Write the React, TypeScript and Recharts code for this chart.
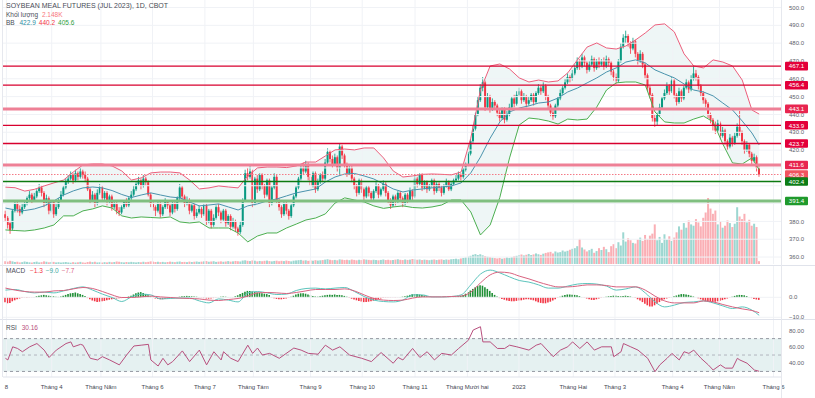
import React from 'react';
import { ComposedChart, Bar, Line, Area, XAxis, YAxis, ReferenceLine, ReferenceArea, Cell } from 'recharts';

const FONT = '"Liberation Sans", Arial, sans-serif';
const UP = '#089981';
const DOWN = '#f23645';

// ---------- price data (daily, index 0 = 8 Mar 2022) ----------
const opens = [
  384,382,379,376,386,390,387,385,388,390, 393,395,392,394,397,399,396,390,393,386,
  391,384,388,392,395,399,402,404,406,403, 407,405,408,406,404,398,392,395,390,396,
  399,393,396,391,394,388,390,386,385,388, 391,389,393,395,398,401,403,400,404,402,
  395,390,388,386,390,384,388,391,389,385, 390,387,393,399,394,390,392,386,389,383,
  385,387,384,389,380,386,378,382,388,385, 381,386,379,383,377,380,376,374,378,392,
  407,405,408,390,404,398,406,400,395,403, 390,399,405,392,388,384,390,386,383,389,
  394,399,404,410,408,412,405,400,407,398, 402,406,404,413,419,415,412,416,410,422,
  417,412,407,410,404,400,396,403,398,394, 399,396,393,397,400,395,398,401,396,392,
  389,394,391,396,393,390,395,392,397,394, 404,401,406,399,402,398,400,403,397,401,
  399,396,400,402,398,401,403,404,406,405, 409,412,418,425,432,440,448,455,458,444,
  450,443,447,445,441,438,443,437,440,444, 449,446,451,453,448,450,446,448,451,447,
  452,455,453,456,450,445,441,439,445,449, 452,455,458,461,460,463,466,470,467,472,
  469,465,468,471,466,470,468,470,467,471, 469,464,461,459,470,478,483,484,480,477,
  481,474,470,474,468,462,455,451,438,436, 440,444,449,452,456,453,459,451,447,453,
  449,455,458,454,460,463,461,456,452,448, 446,440,437,434,431,435,428,431,425,422,
  427,424,428,433,430,425,420,423,418,414, 416,410
];
const closes = [
  382,378,375,386,390,387,385,388,390,393, 395,392,394,397,399,396,390,393,386,391,
  384,388,392,395,399,402,404,406,403,407, 405,408,406,404,398,392,395,390,396,399,
  393,396,391,394,388,390,386,385,388,391, 389,393,395,398,401,403,400,404,402,395,
  390,388,386,390,384,388,391,389,385,390, 387,393,399,394,390,392,386,389,383,385,
  387,384,389,380,386,378,382,388,385,381, 386,379,383,377,380,376,374,378,392,407,
  405,408,390,404,398,406,400,395,403,390, 399,405,392,388,384,390,386,383,389,394,
  399,404,410,408,412,405,400,407,398,402, 406,404,413,419,415,412,416,410,422,417,
  412,407,410,404,400,396,403,398,394,399, 396,393,397,400,395,398,401,396,392,389,
  394,391,396,393,390,395,392,397,394,404, 401,406,399,402,398,400,403,397,401,399,
  396,400,402,398,401,403,404,406,405,409, 412,418,425,432,440,448,455,458,444,450,
  443,447,445,441,438,443,437,440,444,449, 446,451,453,448,450,446,448,451,447,452,
  455,453,456,450,445,441,439,445,449,452, 455,458,461,460,463,466,470,467,472,469,
  465,468,471,466,470,468,470,467,471,469, 464,461,459,470,478,483,484,480,477,481,
  474,470,474,468,462,455,451,438,436,440, 444,449,452,456,453,459,451,447,453,449,
  455,458,454,460,463,461,456,452,448,446, 440,437,434,431,435,428,431,425,422,427,
  424,428,433,430,425,420,423,418,414,416, 410,406.3
];
const highs = [
  386,383,380,387,392,391,389,390,392,394, 397,396,396,398,401,400,397,395,394,392,
  392,390,393,397,400,404,406,408,407,409, 408,410,409,408,405,399,397,396,398,401,
  400,397,397,395,395,392,391,388,389,392, 393,394,397,400,402,405,404,406,405,403,
  396,392,389,391,391,389,393,392,390,391, 391,394,401,400,395,394,393,390,390,387,
  389,388,390,390,387,387,384,389,390,386, 387,387,384,384,382,381,377,380,393,409,
  410,411,409,405,406,407,407,401,404,404, 400,407,406,393,389,391,391,387,390,395,
  400,405,412,413,414,413,406,408,408,404, 407,408,415,421,420,417,418,417,424,423,
  418,413,412,411,405,401,404,404,399,400, 400,397,398,402,401,399,403,402,397,393,
  395,395,397,397,394,396,396,399,398,406, 405,407,407,403,403,401,404,404,402,402,
  400,401,404,403,402,404,406,408,407,410, 413,419,426,434,441,450,457,461,459,452,
  451,449,448,446,443,444,444,442,446,450, 451,453,455,454,452,451,450,452,452,453,
  457,456,458,457,451,446,443,446,450,454, 456,460,463,462,465,468,472,471,474,473,
  470,470,473,472,471,472,471,472,473,472, 470,465,463,471,480,485,487,485,481,483,
  482,475,476,475,469,463,456,452,440,441, 446,450,454,458,457,461,460,452,455,454,
  456,460,459,462,467,465,462,457,453,449, 447,441,438,436,437,436,433,432,426,429,
  428,430,435,442,431,426,425,424,419,418, 417,411
];
const lows = [
  380,376,373,375,385,385,383,384,387,389, 392,390,391,393,396,394,388,389,384,385,
  382,383,387,391,394,398,401,403,401,402, 403,404,404,402,397,390,391,388,389,395,
  392,392,389,390,386,387,384,383,384,387, 388,388,392,394,397,400,398,399,400,394,
  388,386,383,385,382,383,387,387,383,384, 385,386,392,392,388,389,384,385,381,382,
  384,382,383,378,379,376,377,381,383,379, 380,377,378,375,376,374,372,373,377,391,
  403,404,388,389,396,397,398,393,394,388, 389,398,390,386,382,383,384,381,382,388,
  393,398,403,406,407,403,398,399,396,397, 401,402,403,412,413,410,411,408,406,415,
  410,405,406,402,398,394,395,396,392,393, 394,391,392,396,393,394,397,394,390,387,
  388,389,390,391,388,389,390,391,392,393, 399,400,397,398,396,397,399,395,396,397,
  394,395,399,397,397,400,402,403,403,404, 408,411,417,424,431,439,447,453,442,443,
  441,442,443,439,436,437,435,436,439,443, 444,445,450,446,447,444,445,447,445,446,
  451,451,452,448,443,439,437,438,444,448, 451,454,457,458,459,462,465,465,466,467,
  463,464,467,464,465,466,467,465,466,467, 462,459,457,458,469,477,480,478,474,476,
  472,468,469,466,460,453,449,436,433,434, 439,443,448,451,451,452,449,445,446,447,
  448,454,452,453,459,459,454,450,446,444, 438,435,431,429,430,426,427,423,420,421,
  422,423,427,428,423,418,419,416,412,413, 408,405
];
// volume in thousand contracts
const volumes = [
  2.1,1.8,2.4,2.0,1.5,1.7,1.2,1.4,1.9,1.6, 1.3,1.1,1.5,1.8,1.2,1.4,2.0,1.7,1.3,1.5,
  1.6,1.2,1.4,1.1,1.3,1.5,1.2,1.0,1.4,1.1, 1.3,1.6,1.2,1.0,1.5,1.8,1.4,1.7,1.2,1.3,
  1.1,1.4,1.2,1.6,1.3,1.5,1.9,1.7,1.4,1.2, 1.5,1.3,1.6,1.4,1.2,1.5,1.3,1.7,1.4,1.6,
  2.0,1.8,1.5,1.7,1.4,1.6,1.3,1.5,1.8,1.6, 1.4,1.7,1.9,1.5,1.6,1.4,1.8,1.5,1.7,1.9,
  1.6,1.8,2.0,2.2,1.7,1.9,2.1,1.6,1.8,2.0, 1.7,1.9,2.2,1.8,2.0,2.3,2.1,1.9,2.6,2.8,
  2.4,2.2,2.7,2.5,2.0,2.3,2.1,2.4,2.6,2.2, 2.0,2.3,2.5,2.1,2.4,2.2,2.6,2.3,2.0,2.5,
  2.7,2.9,3.1,2.6,2.8,2.4,2.7,2.5,2.9,2.6, 2.8,3.0,3.3,3.6,3.2,2.9,3.1,2.8,3.5,3.3,
  3.0,3.2,2.9,3.4,3.1,2.8,3.2,3.0,3.5,3.3, 3.1,2.9,3.2,3.0,2.8,3.1,3.4,3.0,3.2,2.9,
  3.1,3.3,3.6,3.2,3.0,3.4,3.1,3.3,3.8,3.5, 3.2,3.4,3.0,3.3,3.1,2.9,3.2,3.4,3.0,3.3,
  3.5,3.1,3.4,3.2,3.6,3.8,4.0,3.6,4.2,4.6, 5.0,5.6,6.2,7.0,7.5,6.8,7.4,6.6,6.0,5.5,
  5.2,4.8,4.5,4.2,4.6,4.0,4.4,5.0,4.6,5.2, 5.8,6.2,6.8,7.2,6.5,7.0,7.6,6.8,7.3,8.0,
  7.4,6.9,7.8,8.4,8.8,9.2,8.0,9.5,8.7,9.0, 10.2,9.4,10.0,10.8,11.5,12.0,13.5,19.0,12.5,11.0,
  9.5,10.5,11.5,8.5,9.8,12.0,10.6,13.0,11.2,9.0, 13.5,15.0,12.0,16.5,14.0,24.0,17.0,19.5,18.0,16.0,
  15.5,18.5,20.0,17.5,22.0,19.0,21.5,23.0,30.0,18.0, 20.5,16.0,22.5,18.5,21.0,17.5,20.0,24.0,28.5,26.0,
  31.0,27.5,33.0,30.0,29.0,34.0,31.5,28.5,35.0,39.0, 50.0,42.0,38.0,40.5,30.0,32.5,27.5,29.0,33.0,31.0,
  28.0,30.5,43.0,36.0,34.0,38.0,31.5,33.5,29.0,30.5, 28.0,2.148
];

// ---------- Bollinger Bands (read every 4th bar) ----------
const bbIdx = [
  0,4,8,12,16,20,24,28,32,36, 40,44,48,52,56,60,64,68,72,76, 80,84,88,92,96,100,104,108,112,116,
  120,124,128,132,136,140,144,148,152,156, 160,164,168,172,176,180,184,188,192,196,
  200,204,208,212,216,220,224,228,232,236, 240,244,248,252,256,260,264,268,272,276,
  280,284,288,292,296,300,304,308,311
];
const bbUpper = [
  399.2,398.9,397,398,399.9,401.6,403.2,407.7,411.7,412.2, 412.2,411.1,408.3,403.2,404.4,407.2,407.7,407.7,407.2,403.2,
  398.2,398.8,399.9,399.3,398.8,405.5,410,410.5,410.5,410.2, 411.1,413.3,413.3,416.7,420.1,420.6,420.1,421.2,421.2,415.6,
  408.3,404.9,405.5,406.4,406.6,406.4,406.1,407.7,426.7,453.7, 467.2,468.3,465.5,460.5,458.2,459.3,458.2,458.8,463.3,470.6,
  477.8,480.1,477.3,476.7,478.4,481.8,485.7,490.2,490.8,486.3, 474,467.2,466.1,470.6,469.4,467.2,459.3,442.5,440.2
];
const bbBasis = [
  387.5,386.4,386.1,387,388.7,391.5,394.8,397.1,398.8,399.3, 398.8,397.3,395.1,393.4,394.8,396,394.8,393.7,393.2,390.9,
  388.7,389.2,389.8,388.1,386.4,388.7,389.8,391.5,392.6,394.3, 396,397.1,398.2,402.1,404.9,406.6,406.9,405.5,403.8,401,
  398.2,396.5,397.6,398.2,398.8,399.3,399.9,401.6,407.2,416.1, 426.7,435.8,441.4,443.6,444.8,446.4,447,449.2,452.6,454.8,
  457.7,460.5,463.8,466.1,469.4,470.6,468.9,465,462.7,460.5, 457.1,453.7,452.6,450.4,446.4,442.5,436.3,429.6,422.9
];
const bbLower = [
  375.2,374.9,374.6,375.2,376.3,378,383.1,383.1,385.9,387, 388.7,387.5,383.1,381.9,382.5,382.2,381.9,382.5,379.7,379.1,
  379.7,376.3,376.3,376.3,373.5,368.5,371.8,373.5,373.5,376.3, 378.5,380.8,381.9,384.2,390.3,393.2,392,390.9,388.7,387.3,
  388.1,388.7,387.8,387.5,388.1,389.2,392,392,385.3,372.4, 378,393.5,415.6,434.1,438,437.4,436.3,434.6,437.4,436.9,
  437.4,444.2,453.7,457.7,458.2,458.2,456.5,441.4,435.8,435.2, 435.2,437.4,439.1,435.8,423.4,412.8,412.2,415.6,409
];

// ---------- MACD (lines read every 4th bar, histogram per bar) ----------
const macdLine = [
  3.6,3.9,2.9,2.2,2.6,2.2,3.2,4.4,5.2,3.6, 1.6,-0.1,-2.1,0.2,1.6,1.2,-0.8,-0.6,-0.4,-0.4,
  -1.8,-2.8,-0.8,-1.4,-2.3,2.2,2.9,2.2,1.4,1.6, 3.4,4.4,4.6,4.2,4.6,4.9,2.9,0.4,-1.4,-2.1,
  -2.3,-1.4,1.2,1.2,0.2,0.2,0.4,1.2,6.2,11.6, 13.6,12.2,10.2,8.4,7.6,6.2,4.6,4.6,5.6,6.6,
  6.9,6.6,5.6,3.6,4.2,5.2,2.2,-2.3,-4.8,-3.9, -2.6,-2.3,-1.8,-2.8,-4.3,-5.6,-4.8,-6.4,-9.0
];
const macdSignal = [
  4.6,3.6,2.9,2.6,2.6,3.2,3.4,4.2,4.9,4.4, 2.9,1.2,-0.1,-0.1,0.2,0.6,0.2,-0.1,-0.4,-0.6,
  -0.8,-1.4,-1.6,-1.1,-0.6,0.6,2.2,2.4,2.2,1.9, 2.4,3.2,3.9,3.9,3.9,4.2,3.2,1.2,-0.6,-1.4,
  -1.6,-1.4,-0.4,0.2,0.2,0.2,0.4,0.6,2.6,7.2, 11.2,12.6,12.2,10.6,9.2,7.6,6.2,5.2,5.2,5.6,
  6.2,6.2,5.9,5.2,5.2,5.2,3.6,0.6,-1.8,-2.8, -2.8,-2.8,-1.8,-2.3,-3.6,-4.8,-5.8,-6.6,-7.7
];
const macdHist = [
  -2.5,-3,-2.8,-2,-1.5,
  -1,-0.6,-0.3,-0.2,-0.3,-0.2,-0.1,0.2,
  0.5,0.8,1,1.2,1,0.8,0.6,0.5,0.3,0.2,0.4,
  0.8,1.2,1.6,2,2.2,2.4,2,1.6,1.2,0.6,
  -0.4,-1,-1.6,-2,-2.4,-2.2,-2,-1.8,-1.5,-1.2,-1,-0.8,
  -0.6,-0.5,-0.4,-0.2,0.1,0.4,
  0.8,1.4,2,2.4,2.6,2.2,1.6,1,0.4,
  -0.3,-0.6,-0.8,-1,-1,-0.9,-0.7,-0.5,-0.3,-0.2,0.1,
  0.3,0.5,0.6,0.7,0.6,0.5,0.4,0.3,0.1,-0.2,-0.4,-0.6,-0.7,-0.6,-0.4,-0.2,0.1,0.3,0.4,0.3,0.2,0.1,0.2,
  0.5,1,1.6,2.2,2.8,3.2,3.2,3,2.6,2.4,2.2,2,1.8,1.6,1.2,
  -0.2,-0.5,-0.8,-1,-1,-0.8,-0.6,-0.3,
  0.3,0.8,1.4,1.8,2,2,1.8,1.4,1,
  0.6,0.4,0.3,0.5,0.8,1,
  1.2,1.3,1.2,1.4,1.2,1.2,1,0.7,0.3,
  -0.3,-0.7,-1.1,-1.5,-1.8,-2.1,-2.4,-2.4,-2.2,-2,-1.7,-1.3,-0.9,
  -0.6,-0.4,-0.3,-0.2,-0.2,-0.1,-0.2,-0.1,0.1,0.3,0.5,0.8,
  1.2,1.5,1.6,1.6,1.4,1.2,0.9,0.5,0.2,
  0.1,0.2,0.1,-0.1,0.1,0.2,0.1,0.2,0.3,0.2,0.3,0.5,0.8,
  1.2,1.8,2.6,3.4,4.2,5,5.6,6,5.8,5,4.2,3.2,
  2.2,1.2,0.4,-0.4,
  -0.8,-1.2,-1.6,-1.8,-2,-2,-1.8,-1.6,-1.5,-1.2,-1,-1,-1.2,
  -1.5,-2,-2.5,-2.8,-3,-3,-2.6,-2.2,-1.6,-1,
  -0.3,0.3,0.8,1.2,1.4,1.4,1.3,1.2,1,0.6,
  0.2,-0.2,-0.6,-1,-1.3,-1.3,-1,-0.6,-0.3,
  0.1,0.3,0.5,0.7,0.8,0.8,0.6,
  0.5,0.6,0.8,0.7,0.4,0.1,-0.4,-1,
  -1.6,-2.4,-3.2,-4,-4.6,-4.6,-4,-3.2,-2.4,
  -1.6,-1,-0.6,-0.3,0.1,
  0.5,0.9,1.3,1.6,1.6,1.4,1.2,0.8,0.4,0,
  -0.5,-1,-1.5,-2,-2.2,-2.3,-2.4,-2.2,-2,-1.7,-1.4,-1,-0.6,-0.2,
  0.3,0.7,1,1.2,1.2,1,0.6,0.2,
  -0.4,-0.8,-1.1,-1.3
];

// ---------- RSI (read at turning points) ----------
const rsiIdx = [
  0,1,3,5,7,10,13,16,18,21,25,27,28,31,32,35,38,40,43,47,50,53,56,59,60,63,65,67,69,73,
  76,80,83,86,89,90,93,96,100,102,104,106,109,113,119,122,125,129,132,135,138,142,147,151,155,160,162,164,168,171,
  174,177,180,184,187,191,193,196,197,200,203,206,208,211,216,219,221,226,229,232,234,237,240,243,246,250,251,254,255,258,
  261,265,268,270,273,275,278,280,282,284,287,290,292,295,297,300,302,303,306,309,311
];
const rsiVals = [
  46,44,60,58,54,60,64,56,47,56,64,66,60,63,62,46,44,48,44,38,50,61,62,63,44,36.6,46,38,42,55,
  42,56,38,54,44,54,46,42,62,52,58.5,50,52,46,58.5,56,52,51,62,56,60,50,46,42,53,40,47,44,58,47,
  54,44,52,50,58,68,80.5,84.5,66,66,58,58,62,60,56,62,64,48,56,60,66,58,66,56,60,60,48,54,64,60,
  56,46,29.7,38,46,52,44,54,52,56,46,38,31.7,38,34,34,46,44,40,31.7,30.16
];

// ---------- levels, ticks ----------
const levelValues = [467.1, 456.4, 443.1, 433.9, 423.7, 411.6, 406.3, 402.4, 391.4];
const levelLineColors = ['#d8002e', '#d8002e', '#ee8096', '#d8002e', '#d8002e', '#ee8096', '#f47a86', '#0c7a10', '#80bf80'];
const levelLineWidths = [1.3, 1.3, 3, 1.3, 1.3, 3, 1, 1.4, 3];
const levelTagColors = ['#e3003a', '#e3003a', '#e8254f', '#e3003a', '#e3003a', '#e8254f', '#f2535f', '#0c7d16', '#1f9a2c'];
const priceTicks = [360, 370, 380, 420, 430, 440, 450, 460, 470, 480, 490, 500];
const priceGrid = [360, 370, 380, 390, 400, 410, 420, 430, 440, 450, 460, 470, 480, 490, 500];
const monthTicks = [0.4, 19.1, 39.4, 60.7, 82.3, 102.3, 125.9, 147.2, 169, 190.6, 211.9, 234.3, 251.5, 275.3, 294.6, 316.9];
const monthLabels = ['8', 'Tháng 4', 'Tháng Năm', 'Tháng 6', 'Tháng 7', 'Tháng Tám', 'Tháng 9', 'Tháng 10', 'Tháng 11', 'Tháng Mười hai', '2023', 'Tháng Hai', 'Tháng 3', 'Tháng 4', 'Tháng Năm', 'Tháng 6'];

const X_DOMAIN: [number, number] = [-1, 320];
const PRICE_DOMAIN: [number, number] = [356.1, 504.2];
const MACD_DOMAIN: [number, number] = [-11.35, 16.15];
const RSI_DOMAIN: [number, number] = [23.2, 92.7];

const rows = closes.map((c, i) => ({
  i, open: opens[i], high: highs[i], low: lows[i], close: c, vol: volumes[i], hist: macdHist[i],
}));
const bbData = bbIdx.map((i, k) => ({ i, u: bbUpper[k], m: bbBasis[k], l: bbLower[k], r: [bbLower[k], bbUpper[k]] }));
const macdData = bbIdx.map((i, k) => ({ i, macd: macdLine[k], sig: macdSignal[k] }));
const rsiData = rsiIdx.map((i, k) => ({ i, rsi: rsiVals[k] }));

const Candle = (props: any) => {
  const { x, y, width, height, payload } = props;
  if (!payload || height == null || isNaN(height)) return null;
  const { open, close, high, low } = payload;
  const ppu = height / (high - low);
  const cx = x + width / 2;
  const top = Math.max(open, close);
  const bot = Math.min(open, close);
  const yTop = y + (high - top) * ppu;
  const bodyH = Math.max((top - bot) * ppu, 0.8);
  const color = close >= open ? UP : DOWN;
  return (
    <g>
      <line x1={cx} x2={cx} y1={y} y2={y + height} stroke={color} strokeWidth={0.8} />
      <rect x={x} y={yTop} width={width} height={bodyH} fill={color} />
    </g>
  );
};

const Tag = (props: any) => {
  const { viewBox, text, bg } = props;
  if (!viewBox) return null;
  const x = viewBox.x + viewBox.width + 4;
  const y = viewBox.y;
  return (
    <g>
      <rect x={x} y={y - 4.3} width={23} height={8.6} fill={bg} rx={1} />
      <text x={x + 11.5} y={y} dy="0.36em" textAnchor="middle" fontSize={6.2} fill="#ffffff" fontFamily={FONT}>{text}</text>
    </g>
  );
};

const axisTick = { fontSize: 6, fill: '#5d606b', fontFamily: FONT };
const gridColor = '#f0f2f6';

export default function App() {
  return (
    <div style={{ position: 'fixed', left: 0, top: 0, width: 815, height: 398, background: '#ffffff', fontFamily: FONT, overflow: 'hidden' }}>
      {/* main price pane */}
      <div style={{ position: 'absolute', left: 0, top: 0 }}>
        <ComposedChart width={815} height={264} data={rows} margin={{ top: 0, right: 0, bottom: 0, left: 3 }}>
          <XAxis dataKey="i" type="number" domain={X_DOMAIN} hide allowDataOverflow />
          <XAxis xAxisId="v" dataKey="i" type="number" domain={X_DOMAIN} hide allowDataOverflow />
          <YAxis orientation="right" width={34} domain={PRICE_DOMAIN} ticks={priceTicks} interval={0}
            allowDataOverflow axisLine={false} tickLine={false} tick={axisTick}
            tickFormatter={(v: number) => v.toFixed(1)} />
          <YAxis yAxisId="vol" hide domain={[0, 200]} />
          {monthTicks.map((t) => (
            <ReferenceLine key={'mv' + t} x={t} stroke={gridColor} strokeWidth={1} />
          ))}
          {priceGrid.map((p) => (
            <ReferenceLine key={'ph' + p} y={p} stroke={gridColor} strokeWidth={1} />
          ))}
          <Area data={bbData} dataKey="r" type="linear" stroke="none" fill="#d9ecea" fillOpacity={0.45} isAnimationActive={false} />
          <Bar xAxisId="v" yAxisId="vol" dataKey="vol" barSize={2} isAnimationActive={false}>
            {rows.map((r) => (
              <Cell key={'vc' + r.i} fill={r.close >= r.open ? 'rgba(38,166,154,0.45)' : 'rgba(242,54,69,0.4)'} />
            ))}
          </Bar>
          <Line data={bbData} dataKey="u" type="linear" stroke="#ec5f7c" strokeWidth={1} dot={false} isAnimationActive={false} />
          <Line data={bbData} dataKey="m" type="linear" stroke="#4a93ad" strokeWidth={1} dot={false} isAnimationActive={false} />
          <Line data={bbData} dataKey="l" type="linear" stroke="#4caf50" strokeWidth={1} dot={false} isAnimationActive={false} />
          <Bar dataKey={(d: any) => [d.low, d.high]} barSize={2} shape={<Candle />} isAnimationActive={false} />
        </ComposedChart>
      </div>

      {/* level lines + tags overlay */}
      <div style={{ position: 'absolute', left: 0, top: 0 }}>
        <ComposedChart width={815} height={264} data={rows} margin={{ top: 0, right: 34, bottom: 0, left: 3 }}>
          <XAxis dataKey="i" type="number" domain={X_DOMAIN} hide allowDataOverflow />
          <YAxis hide domain={PRICE_DOMAIN} allowDataOverflow />
          {levelValues.map((v, k) => (
            <ReferenceLine key={'lv' + v} y={v} stroke={levelLineColors[k]} strokeWidth={levelLineWidths[k]}
              strokeDasharray={k === 6 ? '1.5 1.5' : undefined}
              label={<Tag text={v.toFixed(1)} bg={levelTagColors[k]} />} />
          ))}
        </ComposedChart>
      </div>

      {/* MACD pane */}
      <div style={{ position: 'absolute', left: 0, top: 265 }}>
        <ComposedChart width={815} height={55} data={rows} margin={{ top: 0, right: 0, bottom: 0, left: 3 }}>
          <XAxis dataKey="i" type="number" domain={X_DOMAIN} hide allowDataOverflow />
          <YAxis orientation="right" width={34} domain={MACD_DOMAIN} ticks={[-10, 0]} interval={0}
            allowDataOverflow axisLine={false} tickLine={false} tick={axisTick}
            tickFormatter={(v: number) => (v < 0 ? '\u2212' + Math.abs(v).toFixed(1) : v.toFixed(1))} />
          {monthTicks.map((t) => (
            <ReferenceLine key={'mm' + t} x={t} stroke={gridColor} strokeWidth={1} />
          ))}
          <ReferenceLine y={0} stroke={gridColor} />
          <ReferenceLine y={-10} stroke={gridColor} />
          <Bar dataKey="hist" barSize={1.6} isAnimationActive={false}>
            {rows.map((r) => (
              <Cell key={'hc' + r.i} fill={r.hist >= 0 ? '#1f8f35' : '#f23645'} />
            ))}
          </Bar>
          <Line data={macdData} dataKey="macd" type="monotone" stroke="#5cc4bc" strokeWidth={1} dot={false} isAnimationActive={false} />
          <Line data={macdData} dataKey="sig" type="monotone" stroke="#d9627f" strokeWidth={1} dot={false} isAnimationActive={false} />
        </ComposedChart>
      </div>

      {/* RSI pane */}
      <div style={{ position: 'absolute', left: 0, top: 320 }}>
        <ComposedChart width={815} height={78} data={rsiData} margin={{ top: 0, right: 0, bottom: 0, left: 3 }}>
          <XAxis dataKey="i" type="number" domain={X_DOMAIN} ticks={monthTicks} interval={0} allowDataOverflow
            height={21} axisLine={{ stroke: '#e0e3eb' }} tickLine={false}
            tick={{ fontSize: 6, fill: '#434651', fontFamily: FONT }}
            tickFormatter={(v: number) => monthLabels[monthTicks.indexOf(v)] ?? ''} />
          <YAxis orientation="right" width={34} domain={RSI_DOMAIN} ticks={[40, 60, 80]} interval={0}
            allowDataOverflow axisLine={false} tickLine={false} tick={axisTick}
            tickFormatter={(v: number) => v.toFixed(2)} />
          {monthTicks.map((t) => (
            <ReferenceLine key={'mr' + t} x={t} stroke={gridColor} strokeWidth={1} />
          ))}
          <ReferenceArea y1={30} y2={70} fill="#dcecec" fillOpacity={0.75} stroke="none" />
          <ReferenceLine y={70} stroke="#9598a1" strokeDasharray="3 3" />
          <ReferenceLine y={50} stroke="#b2b5be" strokeDasharray="3 3" />
          <ReferenceLine y={30} stroke="#9598a1" strokeDasharray="3 3" />
          <Line dataKey="rsi" type="linear" stroke="#b8507e" strokeWidth={1} dot={false} isAnimationActive={false} />
        </ComposedChart>
      </div>

      {/* pane separators */}
      <div style={{ position: 'absolute', left: 0, top: 265, width: 815, height: 0, borderTop: '1px solid #e0e3eb' }} />
      <div style={{ position: 'absolute', left: 0, top: 319, width: 815, height: 0, borderTop: '1px solid #e0e3eb' }} />
      <div style={{ position: 'absolute', left: 781, top: 0, width: 0, height: 398, borderLeft: '1px solid #e6e8ee' }} />
      <div style={{ position: 'absolute', left: 2, top: 0, width: 0, height: 377, borderLeft: '1px solid #e6e8ee' }} />

      {/* legends */}
      <div style={{ position: 'absolute', left: 6, top: 2, fontSize: 7, lineHeight: '8px', color: '#4a4d57', whiteSpace: 'nowrap' }}>
        SOYBEAN MEAL FUTURES (JUL 2023), 1D, CBOT
      </div>
      <div style={{ position: 'absolute', left: 6, top: 10.5, fontSize: 6.5, lineHeight: '8px', color: '#4a4d57', whiteSpace: 'nowrap' }}>
        Khối lượng <span style={{ color: '#f7777d', marginLeft: 2 }}>2.148K</span>
      </div>
      <div style={{ position: 'absolute', left: 6, top: 18.5, fontSize: 6.5, lineHeight: '8px', color: '#4a4d57', whiteSpace: 'nowrap' }}>
        BB <span style={{ color: '#2c8ea3', marginLeft: 3 }}>422.9</span>
        <span style={{ color: '#f23645', marginLeft: 3 }}>440.2</span>
        <span style={{ color: '#2e9e3e', marginLeft: 3 }}>405.6</span>
      </div>
      <div style={{ position: 'absolute', left: 6, top: 267, fontSize: 6.5, lineHeight: '8px', color: '#4a4d57', whiteSpace: 'nowrap' }}>
        MACD <span style={{ color: '#f23645', marginLeft: 3 }}>−1.3</span>
        <span style={{ color: '#3aa9a0', marginLeft: 3 }}>−9.0</span>
        <span style={{ color: '#d9627f', marginLeft: 3 }}>−7.7</span>
      </div>
      <div style={{ position: 'absolute', left: 6, top: 323.5, fontSize: 6.5, lineHeight: '8px', color: '#4a4d57', whiteSpace: 'nowrap' }}>
        RSI <span style={{ color: '#b8507e', marginLeft: 3 }}>30.16</span>
      </div>
    </div>
  );
}
